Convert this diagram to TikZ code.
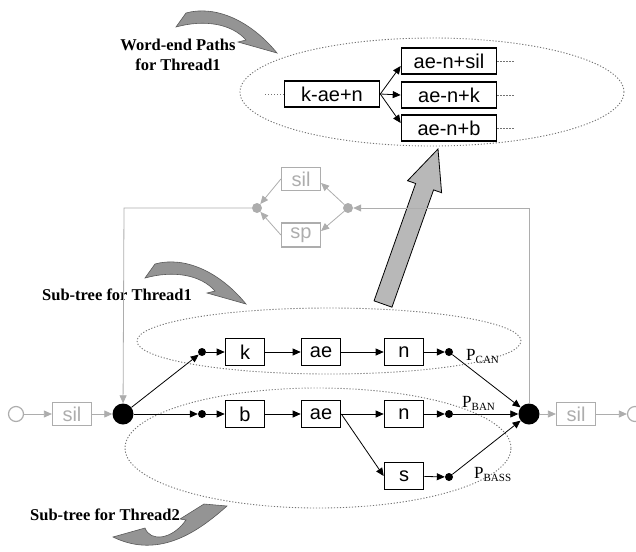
\documentclass[tikz,border=0pt]{standalone}
\usepackage{fontspec}
\setmainfont{Liberation Serif}
\setsansfont{Liberation Sans}
\usetikzlibrary{arrows.meta}

\definecolor{lgray}{gray}{0.68}
\definecolor{zgray}{gray}{0.45}
\definecolor{bgray}{gray}{0.72}
\definecolor{cgray}{gray}{0.58}

% probability label: P with a small-caps style subscript
\newcommand\plab[1]{{\fontsize{17}{17}\selectfont P}\raisebox{-3pt}{\fontsize{11}{11}\selectfont #1}}

\begin{document}
\begin{tikzpicture}[x=1pt,y=-1pt,
  phone/.style={draw, line width=1.6pt, minimum width=39pt, minimum height=27pt,
                inner sep=0pt, font=\sffamily\fontsize{20}{20}\selectfont},
  ctx/.style={phone, minimum width=95pt, minimum height=26pt},
  gphone/.style={phone, draw=lgray, text=lgray, line width=1.2pt, minimum height=23pt},
  sdot/.style={circle, fill, inner sep=0pt, minimum size=8pt},
  bdot/.style={circle, fill, inner sep=0pt, minimum size=21pt},
  gdot/.style={circle, fill=lgray, inner sep=0pt, minimum size=10pt},
  gring/.style={circle, draw=lgray, line width=1.2pt, inner sep=0pt, minimum size=15pt},
  arr/.style={-{Triangle[length=8pt,width=7pt]}, line width=0.8pt},
  garr/.style={arr, draw=lgray, color=lgray},
  zone/.style={draw=zgray, line width=0.9pt, dash pattern=on 1.2pt off 1.8pt},
  caption/.style={font=\bfseries\fontsize{16.5}{20}\selectfont, align=center, inner sep=0pt},
  blockarrow/.style={fill=bgray, draw=black, line width=0.8pt},
  swoop/.style={fill=cgray, draw=cgray!60!black, line width=0.6pt},
]
\useasboundingbox (0,0) rectangle (636,551);

% ---- dotted regions ----
\draw[zone] (432,92) ellipse [x radius=192pt, y radius=54pt];
\draw[zone] (329,341) ellipse [x radius=192pt, y radius=33pt];
\draw[zone] (318,448) ellipse [x radius=193pt, y radius=60pt];

% ---- wide block arrow from the sub-tree to the word-end paths ----
\draw[blockarrow] (374.05,300.83) -- (415.65,183.5) -- (407.6,180.7) -- (438,149)
  -- (441.6,192.7) -- (433.55,189.9) -- (391.95,307.17) -- cycle;

% ---- curved pointer arrows ----
\draw[swoop] (176,27) -- (186,13) .. controls (215,5) and (250,20) .. (277,53)
  -- (238,42) -- (246,40) .. controls (232,24) and (205,19) .. cycle;
\begin{scope}[shift={(-31,251)}]
\draw[swoop] (176,27) -- (186,13) .. controls (215,5) and (250,20) .. (277,53)
  -- (238,42) -- (246,40) .. controls (232,24) and (205,19) .. cycle;
\end{scope}
\draw[swoop] (113,537) -- (145,528) .. controls (150,542) and (172,540) .. (186,520)
  -- (180,519) -- (204,504) -- (227,506) .. controls (200,530) and (160,560) .. cycle;

% ---- captions ----
\node[caption] (cap1) at (178,55) {Word-end Paths\\for Thread1};
\node[caption, anchor=west] (cap2) at (42,295) {Sub-tree for Thread1};
\node[caption, anchor=west] (cap3) at (30,515) {Sub-tree for Thread2};

% ---- word-end paths ----
\node[ctx] (kaen) at (332,94) {k-ae+n};
\node[ctx] (aensil) at (449,61) {ae-n+sil};
\node[ctx] (aenk) at (449,95) {ae-n+k};
\node[ctx] (aenb) at (449,128) {ae-n+b};
\coordinate (kin) at (265,94);
\coordinate (osil) at (515,61);
\coordinate (ok) at (515,95);
\coordinate (ob) at (515,128);
\draw[zone] (kin) -- (kaen.west);
\draw[zone] (aensil.east) -- (osil);
\draw[zone] (aenk.east) -- (ok);
\draw[zone] (aenb.east) -- (ob);
\draw[arr] (kaen.east) -- ([yshift=-5pt]aensil.west);
\draw[arr] (kaen.east) -- (aenk.west);
\draw[arr] (kaen.east) -- ([yshift=5pt]aenb.west);

% ---- silence / short-pause loop ----
\node[gphone] (gsil) at (301,179) {sil};
\node[gphone, minimum height=24pt] (gsp) at (301,235) {sp};
\node[gdot] (ldot) at (257,208) {};
\node[gdot] (rdot) at (348,208) {};
\coordinate (cl) at (124,208);
\coordinate (cr) at (529,208);

% ---- lexical tree ----
\node[bdot] (start) at (123,414) {};
\node[bdot] (stop) at (529,414) {};

\node[sdot] (d1) at (202,352) {};
\node[phone] (k) at (245,352) {k};
\node[phone] (ae1) at (321,352) {ae};
\node[phone] (n1) at (404,352) {n};
\node[sdot] (e1) at (449,352) {};

\node[sdot] (d2) at (202,414) {};
\node[phone] (b) at (245,414) {b};
\node[phone] (ae2) at (321,414) {ae};
\node[phone] (n2) at (404,414) {n};
\node[sdot] (e2) at (449,414) {};

\node[phone] (s) at (404,476) {s};
\node[sdot] (e3) at (449,477) {};

\draw[garr] (stop) -- (cr) -- (rdot);
\draw[garr] (rdot) -- ([yshift=-4pt]gsil.east);
\draw[garr] (rdot) -- ([yshift=4pt]gsp.east);
\draw[garr] (gsil.west) -- (ldot);
\draw[garr] (gsp.west) -- (ldot);
\draw[garr] (ldot) -- (cl) -- (start);

\draw[arr] (start) -- (d1);
\draw[arr] (d1) -- (k);
\draw[arr] (k) -- (ae1);
\draw[arr] (ae1) -- (n1);
\draw[arr] (n1) -- (e1);
\draw[arr] (e1) -- (stop);

\draw[arr] (start) -- (d2);
\draw[arr] (d2) -- (b);
\draw[arr] (b) -- (ae2);
\draw[arr] (ae2) -- (n2);
\draw[arr] (n2) -- (e2);
\draw[arr] (e2) -- (stop);

\draw[arr] (ae2.east) -- (s.west);
\draw[arr] (s) -- (e3);
\draw[arr] (e3) -- (stop);

\node[anchor=base west, inner sep=0pt] (pcan) at (466,360) {\plab{CAN}};
\node[anchor=base west, inner sep=0pt] (pban) at (462,407) {\plab{BAN}};
\node[anchor=base west, inner sep=0pt] (pbass) at (474,478) {\plab{BASS}};

% ---- entry and exit silence ----
\node[gring] (in) at (16,414) {};
\node[gphone] (silL) at (72,414) {sil};
\node[gphone] (silR) at (576,414) {sil};
\node[gring] (out) at (635,414) {};
\draw[garr] (in) -- (silL);
\draw[garr] (silL) -- (start);
\draw[garr] (stop) -- (silR);
\draw[garr] (silR) -- (out);
\end{tikzpicture}
\end{document}
